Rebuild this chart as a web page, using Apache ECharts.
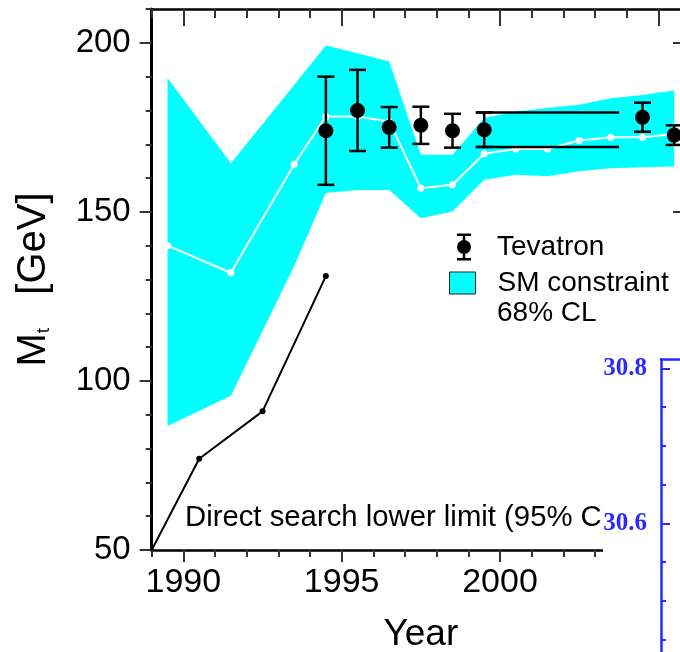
<!DOCTYPE html>
<html>
<head>
<meta charset="utf-8">
<script src="https://cdn.jsdelivr.net/npm/echarts@6/dist/echarts.min.js"></script>
<style>
  html, body { margin: 0; padding: 0; background: #fff; }
  #chart { width: 680px; height: 652px; }
</style>
</head>
<body>
<div id="chart"></div>
<script>
// Top-quark mass: SM fit band by year, Tevatron measurements, direct search limit
const smYears   = [1989.5, 1991.5, 1993.5, 1994.5, 1995.5, 1996.5, 1997.5, 1998.5, 1999.5, 2000.5, 2001.5, 2002.5, 2003.5, 2004.5, 2005.5];
const smCentral = [140.0, 132.0, 164.1, 178.2, 178.2, 176.7, 157.0, 158.0, 167.2, 168.6, 168.6, 171.1, 172.1, 172.1, 173.0];
const smUpper   = [189.6, 164.4, 187.5, 199.2, 196.9, 194.5, 166.9, 166.9, 177.8, 179.7, 180.7, 181.7, 183.6, 184.6, 185.9];
const smLower   = [86.7, 95.6, 134.0, 155.6, 156.5, 156.5, 148.1, 150.1, 159.5, 161.0, 160.5, 162.0, 162.9, 163.2, 163.4];

const tevYears = [1994.5, 1995.5, 1996.5, 1997.5, 1998.5, 1999.5, 2004.5, 2005.5];
const tevMass  = [174.0, 180.0, 175.0, 175.6, 174.0, 174.3, 178.0, 172.7];
const tevError = [16.0, 12.0, 6.0, 5.5, 5.0, 5.1, 4.3, 2.9];
// Run I combination drawn as a horizontal range over these years
const run1Year = 1999.5;
const run1Span = [1999.24, 2003.76];

const limitYears = [1988.5, 1990.5, 1992.5, 1994.5];
const limitMass  = [41, 77, 91, 131];

const yearTicks  = [1990, 1995, 2000, 2005];
const massTicks  = [50, 100, 150, 200];
const insetTicks = [30.4, 30.6, 30.8];
const insetLabels = [30.6, 30.8];

const FONT = 'Liberation Sans, Arial, sans-serif';
const INK = '#000';
const CYAN = '#00ffff';
const BLUE = '#2a2aff';

const yearMinor = [];
for (let y = 1989; y <= 2006; y++) if (!yearTicks.includes(y)) yearMinor.push(y);
const massMinor = [];
for (let m = 60; m <= 210; m += 10) if (!massTicks.includes(m)) massMinor.push(m);
const insetMinor = [];
for (let k = 1; k < 8; k++) {
  const v = +(30.4 + k * 0.05).toFixed(2);
  if (!insetTicks.includes(v)) insetMinor.push(v);
}

const run1Idx = tevYears.indexOf(run1Year);
const run1Hi = tevMass[run1Idx] + tevError[run1Idx];
const run1Lo = tevMass[run1Idx] - tevError[run1Idx];

function xAx(position, ticks, len, inside, opts) {
  return Object.assign({
    type: 'value', gridIndex: 0, position: position, min: 1989, max: 2006,
    axisLine: { show: false },
    axisTick: { show: true, inside: inside, length: len, customValues: ticks, lineStyle: { color: '#333', width: 2 } },
    axisLabel: { show: false },
    splitLine: { show: false }
  }, opts || {});
}
function yAx(position, ticks, len, inside, opts) {
  return Object.assign({
    type: 'value', gridIndex: 0, position: position, min: 50, max: 210,
    axisLine: { show: false },
    axisTick: { show: true, inside: inside, length: len, customValues: ticks, lineStyle: { color: '#333', width: 2 } },
    axisLabel: { show: false },
    splitLine: { show: false }
  }, opts || {});
}

const tevIcon = 'path://M0 0H14V2.5H0Z M0 24.5H14V27H0Z M5.75 0H8.25V27H5.75Z M0 13.5A7 7 0 1 1 14 13.5A7 7 0 1 1 0 13.5Z';

const chart = echarts.init(document.getElementById('chart'), null, { renderer: 'canvas' });

chart.setOption({
  animation: false,
  backgroundColor: '#fff',
  textStyle: { fontFamily: FONT },
  grid: [
    { left: 151.7, top: 9, right: -10, bottom: 102, outerBoundsMode: 'none', containLabel: false },
    { left: 661, top: 359.3, right: -30, bottom: -26.3, outerBoundsMode: 'none', containLabel: false }
  ],
  xAxis: [
    xAx('bottom', yearTicks, 12, false, {
      axisLine: { show: true, lineStyle: { color: INK, width: 2.7 } },
      axisLabel: {
        show: true, customValues: yearTicks, fontSize: 34, color: INK, margin: 16, fontFamily: FONT,
        formatter: v => String(Math.round(v))
      },
      name: 'Year', nameLocation: 'middle', nameGap: 66,
      nameTextStyle: { fontSize: 37, color: INK, fontFamily: FONT }
    }),
    xAx('bottom', yearMinor, 7, false),
    xAx('top', yearTicks, 17, true, {
      axisLine: { show: true, lineStyle: { color: INK, width: 2.7 } }
    }),
    xAx('top', yearMinor, 9, true),
    {
      type: 'value', gridIndex: 1, position: 'top', min: 0, max: 1, z: 110,
      axisLine: { show: true, lineStyle: { color: BLUE, width: 2.5 } },
      axisTick: { show: false }, axisLabel: { show: false }, splitLine: { show: false }
    }
  ],
  yAxis: [
    yAx('left', massTicks, 12, false, {
      axisLine: { show: true, lineStyle: { color: INK, width: 3 } },
      axisLabel: {
        show: true, customValues: massTicks, fontSize: 33, color: INK, margin: 21, fontFamily: FONT,
        formatter: v => String(Math.round(v))
      },
      name: '{m|M}{t|t}{m|   [GeV]}', nameLocation: 'middle', nameRotate: 90, nameGap: 98,
      nameTextStyle: {
        fontSize: 39, color: INK, fontFamily: FONT, lineHeight: 48,
        rich: {
          m: { fontSize: 40, lineHeight: 40, verticalAlign: 'top', color: INK, fontFamily: FONT },
          t: { fontSize: 19, lineHeight: 19, verticalAlign: 'bottom', color: INK, fontFamily: FONT }
        }
      }
    }),
    yAx('left', massMinor, 6, false),
    yAx('right', massTicks, 17, true, {
      axisLine: { show: true, lineStyle: { color: INK, width: 3 } }
    }),
    yAx('right', massMinor, 9, true),
    {
      type: 'value', gridIndex: 1, position: 'left', min: 30.4, max: 30.8116, z: 110,
      axisLine: { show: true, lineStyle: { color: BLUE, width: 2.5 } },
      axisTick: { show: true, inside: true, length: 9, customValues: insetTicks, lineStyle: { color: BLUE, width: 2 } },
      axisLabel: {
        show: true, customValues: insetLabels, margin: 14, color: BLUE,
        fontFamily: 'Liberation Serif, Times New Roman, serif', fontWeight: 'bold', fontSize: 25,
        formatter: v => Number(v).toFixed(1)
      },
      splitLine: { show: false }
    },
    {
      type: 'value', gridIndex: 1, position: 'left', min: 30.4, max: 30.8116, z: 110,
      axisLine: { show: false },
      axisTick: { show: true, inside: true, length: 5, customValues: insetMinor, lineStyle: { color: BLUE, width: 2 } },
      axisLabel: { show: false }, splitLine: { show: false }
    }
  ],
  legend: [
    {
      data: [{ name: 'Tevatron', icon: tevIcon, itemStyle: { color: INK, opacity: 1 } }],
      left: 457, top: 233, padding: 0, orient: 'vertical',
      itemWidth: 14, itemHeight: 27, selectedMode: false,
      textStyle: { fontSize: 28, color: INK, fontFamily: FONT, padding: [0, 0, 0, 21] }
    },
    {
      data: [{ name: 'SM constraint', icon: 'rect', itemStyle: { color: CYAN, borderColor: '#222', borderWidth: 1, opacity: 1 } }],
      left: 449, top: 269, padding: 0, orient: 'vertical',
      itemWidth: 26, itemHeight: 22, selectedMode: false,
      textStyle: { fontSize: 28, color: INK, fontFamily: FONT, padding: [0, 0, 0, 17] }
    }
  ],
  graphic: [
    {
      type: 'text', x: 185, y: 518, z: 5,
      style: {
        text: 'Direct search lower limit (95% CL)', fill: INK,
        font: '29.3px ' + FONT, align: 'left', verticalAlign: 'middle',
        textAlign: 'left', textVerticalAlign: 'middle'
      }
    },
    {
      type: 'text', x: 497, y: 313, z: 5,
      style: {
        text: '68% CL', fill: INK,
        font: '28px ' + FONT, align: 'left', verticalAlign: 'middle',
        textAlign: 'left', textVerticalAlign: 'middle'
      }
    },
    {
      type: 'rect', z: 100,
      shape: { x: 603, y: 352, width: 80, height: 310 },
      style: { fill: '#fff' }
    }
  ],
  series: [
    {
      name: 'SM constraint', type: 'custom', xAxisIndex: 0, yAxisIndex: 0, z: 1, silent: true,
      itemStyle: { color: CYAN },
      data: smYears.map((x, i) => [x, smLower[i], smUpper[i]]),
      encode: { x: 0, y: [1, 2] },
      renderItem: function (params, api) {
        if (params.dataIndex !== 0) return null;
        const pts = [];
        for (let i = 0; i < smYears.length; i++) pts.push(api.coord([smYears[i], smUpper[i]]));
        for (let i = smYears.length - 1; i >= 0; i--) pts.push(api.coord([smYears[i], smLower[i]]));
        return { type: 'polygon', shape: { points: pts }, style: { fill: CYAN } };
      }
    },
    {
      name: 'SM fit', type: 'line', xAxisIndex: 0, yAxisIndex: 0, z: 3, silent: true,
      data: smYears.map((x, i) => [x, smCentral[i]]),
      symbol: 'circle', symbolSize: 7, showSymbol: true,
      lineStyle: { color: '#fff', width: 2 },
      itemStyle: { color: '#fff', opacity: 1 }
    },
    {
      name: 'Direct search', type: 'line', xAxisIndex: 0, yAxisIndex: 0, z: 4, silent: true, clip: true,
      data: limitYears.map((x, i) => [x, limitMass[i]]),
      symbol: 'circle', symbolSize: 6, showSymbol: true,
      lineStyle: { color: INK, width: 2 },
      itemStyle: { color: INK, opacity: 1 }
    },
    {
      name: 'Run I upper', type: 'line', xAxisIndex: 0, yAxisIndex: 0, z: 5, silent: true,
      data: [[run1Span[0], run1Hi], [run1Span[1], run1Hi]],
      symbol: 'none', lineStyle: { color: INK, width: 2.5 }
    },
    {
      name: 'Run I lower', type: 'line', xAxisIndex: 0, yAxisIndex: 0, z: 5, silent: true,
      data: [[run1Span[0], run1Lo], [run1Span[1], run1Lo]],
      symbol: 'none', lineStyle: { color: INK, width: 2.5 }
    },
    {
      name: 'Tevatron errors', type: 'custom', xAxisIndex: 0, yAxisIndex: 0, z: 5, silent: true,
      data: tevYears.map((x, i) => [x, tevMass[i], tevError[i]]),
      encode: { x: 0, y: 1 },
      renderItem: function (params, api) {
        const x = api.value(0), m = api.value(1), e = api.value(2);
        const hi = api.coord([x, m + e]);
        const lo = api.coord([x, m - e]);
        const hw = 8.5;
        const st = { stroke: INK, lineWidth: 2.5 };
        return {
          type: 'group',
          children: [
            { type: 'line', shape: { x1: hi[0], y1: hi[1], x2: lo[0], y2: lo[1] }, style: st },
            { type: 'line', shape: { x1: hi[0] - hw, y1: hi[1], x2: hi[0] + hw, y2: hi[1] }, style: st },
            { type: 'line', shape: { x1: lo[0] - hw, y1: lo[1], x2: lo[0] + hw, y2: lo[1] }, style: st }
          ]
        };
      }
    },
    {
      name: 'Tevatron', type: 'scatter', xAxisIndex: 0, yAxisIndex: 0, z: 6, silent: true,
      data: tevYears.map((x, i) => [x, tevMass[i]]),
      symbol: 'circle', symbolSize: 15,
      itemStyle: { color: INK, opacity: 1 }
    }
  ]
});
</script>
</body>
</html>
